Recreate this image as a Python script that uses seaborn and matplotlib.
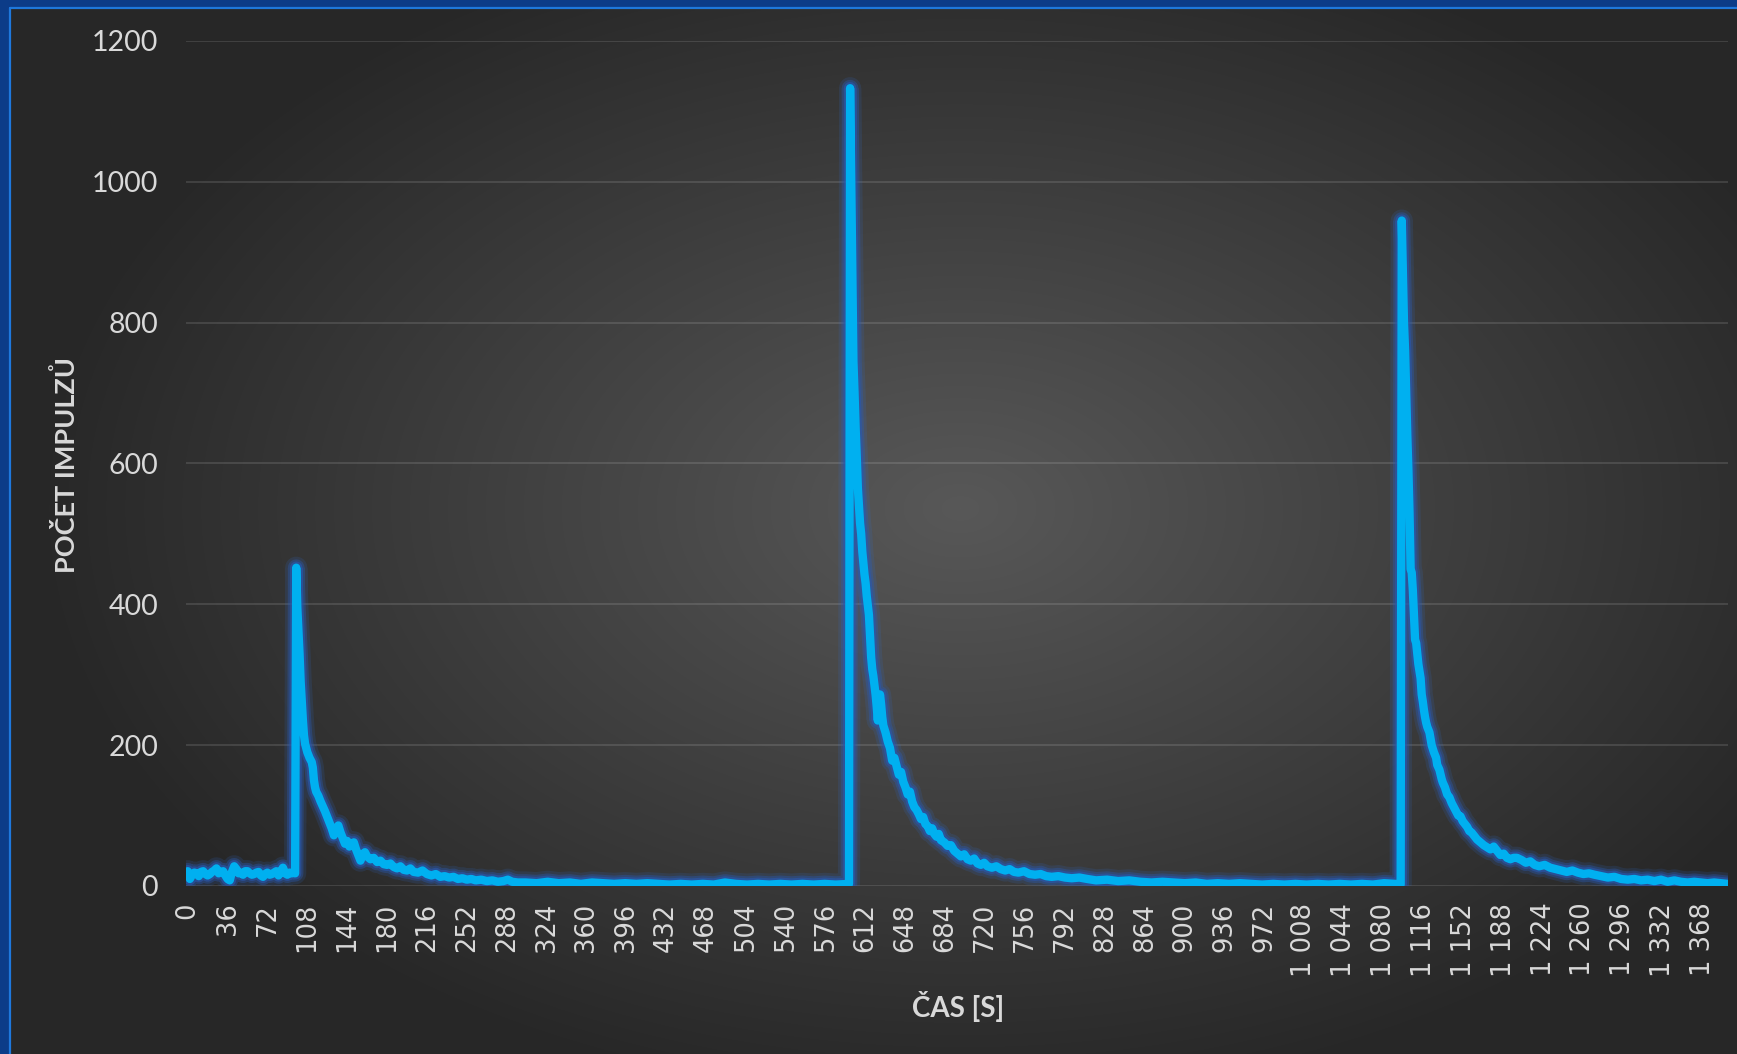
import numpy as np
import pandas as pd
import matplotlib
matplotlib.use("Agg")
import matplotlib.pyplot as plt
import seaborn as sns

# values: time [s] and counts per segment
t_base1 = [0, 2, 4, 6, 8, 10, 12, 14, 16, 18, 20, 22, 24, 26, 28, 30, 32, 34, 36, 38,
           40, 42, 44, 46, 48, 50, 52, 54, 56, 58, 60, 62, 64, 66, 68, 70, 72, 74, 76, 78,
           80, 82, 84, 86, 88, 90, 92, 94, 96, 97]
n_base1 = [21, 10, 16, 19, 18, 14, 20, 21, 17, 15, 17, 20, 22, 25, 18, 20, 21, 15, 10, 8,
           20, 28, 24, 18, 19, 16, 21, 21, 18, 16, 17, 19, 20, 15, 13, 17, 19, 16, 17, 19,
           21, 15, 20, 26, 18, 16, 19, 18, 19, 18]

t_peak1 = [98, 99, 100, 101, 102, 103, 104, 105, 106, 107, 108, 110, 112, 113, 114, 115, 116,
           118, 120, 122, 124, 126, 128, 130, 132, 134, 136, 138, 140, 142, 144, 146, 148,
           150, 152, 154, 156, 158, 160, 162, 165, 168, 171, 174, 177, 180, 183, 186, 189,
           192, 195, 198, 201, 204, 208, 212, 216, 220, 224, 228, 232, 236, 240, 244, 248,
           252, 256, 260, 265, 270, 275, 280, 285, 289, 293, 298]
n_peak1 = [452, 395, 362, 330, 290, 262, 236, 214, 202, 196, 190, 182, 176, 168, 150, 140, 134,
           128, 120, 113, 106, 98, 90, 82, 72, 80, 86, 76, 68, 60, 64, 56, 60,
           62, 52, 44, 36, 45, 48, 42, 38, 40, 34, 36, 31, 30, 32, 27, 25,
           28, 23, 22, 25, 20, 19, 22, 17, 15, 17, 13, 14, 12, 13, 10, 11,
           9, 10, 8, 9, 7, 8, 6, 7, 9, 6, 5]

t_flat1 = [305, 315, 325, 335, 345, 355, 365, 375, 385, 395, 405, 415, 425, 435, 445,
           455, 465, 475, 485, 495, 505, 515, 525, 535, 545, 555, 565, 575, 585, 597]
n_flat1 = [5, 4, 6, 4, 5, 3, 5, 4, 3, 4, 3, 4, 3, 2, 3,
           2, 3, 2, 5, 3, 2, 3, 2, 3, 2, 3, 2, 3, 2, 3]

t_peak2 = [598, 599, 600, 601, 602, 603, 604, 605, 606, 607, 608, 609, 610, 611, 612, 613,
           614, 615, 616, 617, 618, 619, 620, 621, 622, 623, 624, 625, 626, 627, 628, 630,
           632, 634, 636, 638, 640, 642, 644, 646, 648, 650, 652, 654, 656, 658, 660, 662,
           664, 666, 668, 670, 672, 674, 676, 678, 680, 683, 686, 689, 692, 695, 698, 701,
           704, 707, 710, 713, 716, 719, 722, 726, 730, 734, 738, 742, 746, 750, 755, 760,
           765, 770, 775, 780, 786, 792, 798, 805, 812, 820, 830, 840, 850, 860, 870, 880]
n_peak2 = [1133, 1000, 860, 745, 700, 650, 610, 565, 540, 515, 500, 475, 458, 442, 430, 412,
           398, 385, 355, 325, 308, 298, 285, 272, 255, 235, 262, 272, 258, 240, 228, 218,
           205, 196, 178, 182, 170, 158, 162, 148, 140, 130, 134, 120, 112, 108, 102, 95,
           98, 88, 85, 78, 82, 74, 70, 74, 65, 62, 57, 58, 50, 46, 42, 45,
           38, 36, 39, 32, 30, 33, 28, 26, 28, 24, 22, 24, 20, 19, 21, 17,
           16, 17, 14, 13, 14, 12, 11, 12, 10, 8, 9, 7, 8, 6, 5, 6]

t_flat2 = [890, 900, 910, 920, 930, 940, 950, 960, 970, 980, 990, 1000, 1010, 1020,
           1030, 1040, 1050, 1060, 1070, 1080, 1090, 1095]
n_flat2 = [5, 4, 5, 3, 4, 3, 4, 3, 2, 3, 2, 3, 2, 3,
           2, 3, 2, 3, 2, 4, 3, 2]

t_peak3 = [1096, 1097, 1098, 1099, 1100, 1101, 1102, 1103, 1104, 1105, 1106, 1107, 1108,
           1109, 1110, 1111, 1112, 1113, 1114, 1115, 1116, 1117, 1118, 1119, 1121, 1123,
           1125, 1127, 1128, 1130, 1132, 1133, 1135, 1137, 1139, 1141, 1143, 1145, 1147,
           1149, 1151, 1153, 1155, 1157, 1159, 1161, 1164, 1167, 1170, 1173, 1176, 1179,
           1182, 1185, 1188, 1191, 1194, 1197, 1200, 1204, 1208, 1212, 1216, 1220, 1225,
           1230, 1235, 1240, 1245, 1250, 1255, 1260, 1265, 1270, 1276, 1282, 1288, 1294,
           1300, 1306, 1312, 1318, 1324, 1330, 1336, 1342, 1348, 1354, 1360, 1366, 1372,
           1378, 1384, 1390]
n_peak3 = [945, 870, 800, 760, 700, 640, 590, 530, 450, 445, 420, 385, 350,
           345, 330, 315, 305, 295, 272, 262, 250, 240, 232, 226, 218, 200,
           190, 182, 172, 165, 152, 147, 140, 130, 126, 118, 112, 106, 100,
           99, 92, 88, 84, 78, 76, 72, 66, 62, 58, 55, 52, 56,
           50, 44, 46, 40, 38, 40, 40, 37, 33, 35, 30, 28, 30,
           26, 24, 22, 20, 22, 19, 17, 18, 16, 14, 12, 13, 10,
           9, 10, 8, 9, 7, 9, 6, 8, 6, 5, 6, 5, 4,
           5, 4, 3]

df = pd.DataFrame({
    "t": t_base1 + t_peak1 + t_flat1 + t_peak2 + t_flat2 + t_peak3,
    "n": n_base1 + n_peak1 + n_flat1 + n_peak2 + n_flat2 + n_peak3,
})

W, H = 1737, 1054
sns.set_theme(style="dark")
plt.rcParams['font.family'] = ['Lato', 'DejaVu Sans']

fig = plt.figure(figsize=(W / 100, H / 100), dpi=100, facecolor='#0c3c88')

# dark panel with a radial gradient
bg = fig.add_axes([10 / W, 0, 1 - 10 / W, 1 - 8 / H])
ph, pw = 1046, 1727
yy, xx = np.mgrid[0:ph, 0:pw]
r = np.sqrt(((xx - 950) / 930) ** 2 + ((yy - 500) / 600) ** 2)
r = np.clip(r, 0, 1)
c0 = np.array([0x58, 0x58, 0x58]) / 255
c1 = np.array([0x27, 0x27, 0x27]) / 255
img = c0 + (c1 - c0) * r[..., None]
bg.imshow(img, aspect='auto', interpolation='bilinear')
bg.set_axis_off()
fig.add_artist(plt.Line2D([10 / W, 10 / W], [0, 1 - 8 / H], transform=fig.transFigure,
                          color='#1e78dc', lw=1.6))
fig.add_artist(plt.Line2D([10 / W, 1], [1 - 8 / H, 1 - 8 / H], transform=fig.transFigure,
                          color='#1e78dc', lw=1.6))

ax = fig.add_axes([186 / W, 1 - 886 / H, 1542 / W, 845 / H])
ax.patch.set_alpha(0)

# glow + line
for lw, a, c in [(16, 0.15, '#2f6fd6'), (12, 0.35, '#2a5cb8'), (9, 0.6, '#2858b0')]:
    sns.lineplot(data=df, x="t", y="n", ax=ax, color=c, linewidth=lw, alpha=a,
                 estimator=None, legend=False, solid_joinstyle='round', solid_capstyle='round')
sns.lineplot(data=df, x="t", y="n", ax=ax, color='#00b0f0', linewidth=6,
             estimator=None, legend=False, solid_joinstyle='round', solid_capstyle='round')

ax.set_xlim(-1.5, 1390.5)
ax.set_ylim(0, 1200)
xt = list(range(0, 1369, 36))
ax.set_xticks(xt)
ax.set_xticklabels([f"{v:,}".replace(",", "\u00a0") for v in xt], rotation=90,
                   fontfamily='DejaVu Sans')
ax.set_yticks(range(0, 1201, 200))
ax.tick_params(axis='x', length=0, pad=12, labelsize=18.5, labelcolor='#d9d9d9')
ax.tick_params(axis='y', length=0, pad=20, labelsize=20.5, labelcolor='#d9d9d9')
ax.grid(False)
ax.yaxis.grid(True, color='#ffffff', alpha=0.13, lw=1.3)
ax.set_axisbelow(True)
for s in ax.spines.values():
    s.set_visible(False)
ax.set_xlabel("")
ax.set_ylabel("")

fig.text(66 / W, 1 - 465 / H, "POČET IMPULZŮ", rotation=90, ha='center', va='center',
         color='#d9d9d9', fontsize=19.5, fontweight='bold')
fig.text(958 / W, 1 - 1006 / H, "ČAS [S]", ha='center', va='center',
         color='#d9d9d9', fontsize=20, fontweight='bold')

fig.savefig("out.png", dpi=100, facecolor=fig.get_facecolor())
